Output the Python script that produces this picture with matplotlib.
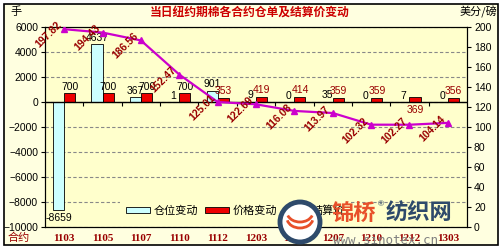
import numpy as np
import matplotlib.pyplot as plt
from matplotlib.patches import Rectangle, Ellipse, Arc
from matplotlib.transforms import blended_transform_factory

plt.rcParams['font.family'] = ['Liberation Sans', 'Noto Sans CJK SC', 'DejaVu Sans']

# 合约月份
contracts = ['1103', '1105', '1107', '1110', '1112', '1203',
             '1205', '1207', '1210', '1212', '1303']
# 仓位变动 (手)
pos_change = [-8659, 4637, 367, 1, 901, 9, 0, 35, 0, 7, 0]
# 价格变动
price_change = [700, 700, 700, 700, 353, 419, 414, 359, 359, 369, 356]
# 结算价 (美分/磅)
settle = [197.82, 194.43, 186.56, 152.47, 125.01, 122.69,
          116.08, 113.97, 102.32, 102.27, 104.14]

title = '当日纽约期棉各合约仓单及结算价变动'
cjk = ['Noto Sans CJK SC', 'DejaVu Sans']
darkred = '#990000'
plot_bg = '#FFFFCC'
outer_bg = '#FFFFE0'

fig = plt.figure(figsize=(5.03, 2.5), dpi=100)
fig.patch.set_facecolor('white')
fig.patches.append(Rectangle((4 / 503, 5 / 250), 494 / 503, 241 / 250,
                             transform=fig.transFigure, facecolor=outer_bg,
                             edgecolor='black', lw=1.2, zorder=-10))

ax = fig.add_axes([45 / 503, 23 / 250, 422 / 503, 200 / 250])
ax.set_facecolor(plot_bg)
x = np.arange(len(contracts))

b1 = ax.bar(x, pos_change, width=-0.29, align='edge', color='#CCFFFF',
            edgecolor='black', lw=0.6, zorder=3)
b2 = ax.bar(x, price_change, width=0.29, align='edge', color='#EE0000',
            edgecolor='black', lw=0.6, zorder=3)

ax.set_xlim(-0.5, len(contracts) - 0.5)
ax.set_ylim(-10000, 6000)
ax.set_yticks(np.arange(-10000, 6001, 2000))
ax.yaxis.grid(True, color='#888888', ls=(0, (3, 2)), lw=0.8)
ax.set_axisbelow(True)
ax.axhline(0, color='black', lw=1, zorder=4)
# 分隔刻度
trans = blended_transform_factory(ax.transData, ax.transAxes)
zero = 10000 / 16000
ax.vlines(x[:-1] + 0.5, zero - 0.02, zero, transform=trans, color='black', lw=0.8, zorder=4)

ax.set_xticks(x)
ax.set_xticklabels(contracts, color=darkred, fontweight='bold',
                   family='Liberation Serif', fontsize=8)
ax.tick_params(axis='x', length=0, pad=5)
ax.tick_params(axis='y', labelsize=7.5, length=3, pad=2)
for s in ax.spines.values():
    s.set_color('black')
    s.set_linewidth(0.8)

for i, v in enumerate(pos_change):
    if v < 0:
        ax.annotate(str(v), (i - 0.15, v), xytext=(0, -2), textcoords='offset points',
                    ha='center', va='top', fontsize=7.5)
    else:
        ax.annotate(str(v), (i - 0.15, v), xytext=(0, 1), textcoords='offset points',
                    ha='center', va='bottom', fontsize=7.5)
for i, v in enumerate(price_change):
    if i == 9:
        ax.annotate(str(v), (i + 0.15, 0), xytext=(0, -2), textcoords='offset points',
                    ha='center', va='top', fontsize=7.5, color=darkred)
    else:
        ax.annotate(str(v), (i + 0.15, v), xytext=(0, 1), textcoords='offset points',
                    ha='center', va='bottom', fontsize=7.5,
                    color=darkred if i > 3 else 'black')

ax2 = ax.twinx()
ax2.set_ylim(0, 200)
ax2.set_yticks(np.arange(0, 201, 20))
ax2.tick_params(axis='y', labelsize=7.5, length=3, pad=2)
for s in ax2.spines.values():
    s.set_color('black')
    s.set_linewidth(0.8)
ln, = ax2.plot(x, settle, color='#CC00CC', lw=1.6, marker='^', ms=4, zorder=5)
for i, v in enumerate(settle):
    ax2.annotate(f'{v:.2f}', (i, v), xytext=(-11, -4), textcoords='offset points',
                 ha='center', va='center', rotation=45, fontsize=7.5,
                 fontweight='bold', color=darkred, zorder=6)

leg = ax2.legend([b1, b2, ln], ['仓位变动', '价格变动', '结算价'],
                 loc='lower left', bbox_to_anchor=(0.165, 0.0), ncol=3,
                 frameon=True, facecolor=plot_bg, edgecolor='none', framealpha=1,
                 prop={'family': cjk, 'size': 8}, handlelength=2.2, handleheight=0.5,
                 columnspacing=0.6, handletextpad=0.3, borderpad=0.5, fancybox=False)
leg.set_zorder(7)

fig.text(250 / 503, 1 - 12 / 250, title, ha='center', va='center', color='#CC0000',
         fontsize=8.5, fontweight='bold', family=cjk)
fig.text(10 / 503, 1 - 12 / 250, '手', ha='left', va='center', fontsize=8, family=cjk)
fig.text(497 / 503, 1 - 12 / 250, '美分/磅', ha='right', va='center', fontsize=8, family=cjk)
fig.text(8 / 503, 1 - 238 / 250, '合约', ha='left', va='center', fontsize=8,
         color=darkred, family=cjk)

# 水印
cx, cy = 300 / 503, 1 - 222 / 250
fig.patches.append(Ellipse((cx, cy), 40 / 503, 40 / 250, transform=fig.transFigure,
                           facecolor='white', edgecolor='#2E4A6B', lw=3.5, zorder=8))
fig.patches.append(Arc((cx, cy + 4 / 250), 26 / 503, 20 / 250, theta1=200, theta2=340,
                       transform=fig.transFigure, color='#E8502A', lw=2, zorder=9))
fig.patches.append(Arc((cx, cy + 10 / 250), 26 / 503, 20 / 250, theta1=210, theta2=330,
                       transform=fig.transFigure, color='#E8502A', lw=2, zorder=9))
fig.text(332 / 503, 1 - 213 / 250, '锦桥', ha='left', va='center', fontsize=16,
         fontweight='bold', color='#E8502A', family=cjk, zorder=9)
fig.text(378 / 503, 1 - 205 / 250, '®', ha='left', va='center', fontsize=6,
         color='#2E4A6B', zorder=9)
fig.text(386 / 503, 1 - 213 / 250, '纺织网', ha='left', va='center', fontsize=16,
         fontweight='bold', color='#2E4A6B', family=cjk, zorder=9)
fig.text(333 / 503, 1 - 240 / 250, 'www.sinotex.cn', ha='left', va='center', fontsize=9,
         color='#808080', family='DejaVu Sans Mono', zorder=9)

fig.savefig('out.png', dpi=100, facecolor=fig.get_facecolor())
